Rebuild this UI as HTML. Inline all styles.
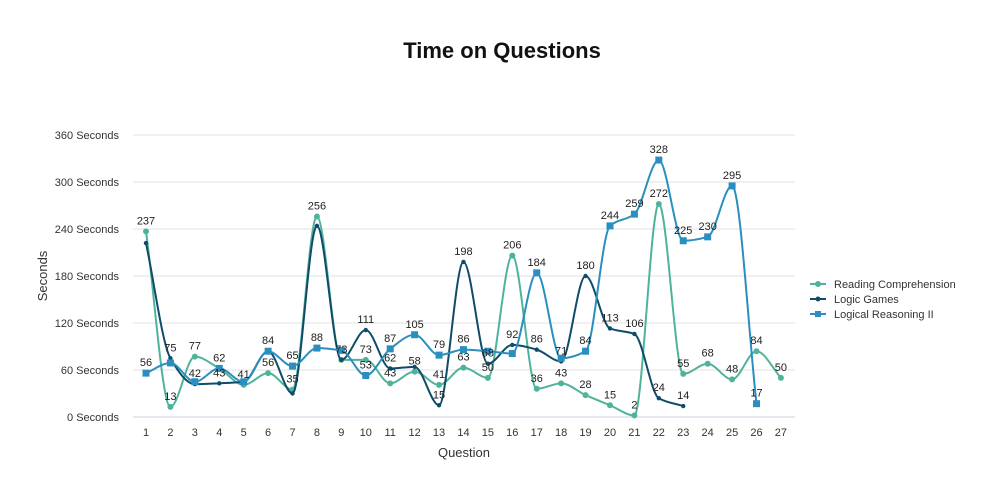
<!DOCTYPE html>
<html><head><meta charset="utf-8"><style>
body{margin:0;background:#fff;width:988px;height:487px;overflow:hidden;font-family:"Liberation Sans",sans-serif}
</style></head><body>
<svg id="s" width="988" height="487" xmlns="http://www.w3.org/2000/svg" font-family="Liberation Sans, sans-serif">
<text x="502" y="58" text-anchor="middle" font-size="22" font-weight="bold" fill="#111">Time on Questions</text>
<g id="grid"></g><g id="lines"></g><g id="labels" font-size="11" fill="#222" text-anchor="middle"></g>
<text x="464" y="457" text-anchor="middle" font-size="13" fill="#333">Question</text>
<text transform="translate(47,276) rotate(-90)" text-anchor="middle" font-size="13" fill="#333">Seconds</text>
<g font-size="11" fill="#333">
<line x1="810" y1="284" x2="826" y2="284" stroke="#4fb39c" stroke-width="2"/><circle cx="818" cy="284" r="3" fill="#4fb39c"/><text x="834" y="288">Reading Comprehension</text>
<line x1="810" y1="299" x2="826" y2="299" stroke="#0f4c6b" stroke-width="2"/><circle cx="818" cy="299" r="2.5" fill="#0f4c6b"/><text x="834" y="303">Logic Games</text>
<line x1="810" y1="314" x2="826" y2="314" stroke="#2a8fbf" stroke-width="2"/><rect x="815" y="311" width="6" height="6" fill="#2a8fbf"/><text x="834" y="318">Logical Reasoning II</text>
</g>
</svg>
<script>
const NS="http://www.w3.org/2000/svg";
const X=i=>146+(i-1)*24.42, Y=v=>417-v*0.7833;
function el(t,a,p){const e=document.createElementNS(NS,t);for(const k in a)e.setAttribute(k,a[k]);if(p)p.appendChild(e);return e;}
const g=document.getElementById('grid'),L=document.getElementById('lines'),lab=document.getElementById('labels');
for(let v=0;v<=360;v+=60){el('line',{x1:133,x2:795,y1:Y(v),y2:Y(v),stroke:v==0?'#c9d3e0':'#e2e2e2','stroke-width':1},g);
const t=el('text',{x:119,y:Y(v)+4,'text-anchor':'end','font-size':11,fill:'#333'},g);t.textContent=v+' Seconds';}
for(let i=1;i<=27;i++){const t=el('text',{x:X(i),y:436,'text-anchor':'middle','font-size':11,fill:'#333'},g);t.textContent=i;}
const RC=[237,13,77,62,41,56,35,256,73,73,43,58,41,63,50,206,36,43,28,15,2,272,55,68,48,84,50];
const LG=[222,75,42,43,45,84,30,244,73,111,62,64,15,198,68,92,86,71,180,113,106,24,14];
const LR=[56,69,45,62,45,84,65,88,85,53,87,105,79,86,84,81,184,75,84,244,259,328,225,230,295,17];
function path(d,c,m){const p=d.map((v,i)=>[X(i+1),Y(v)]);const n=p.length,h=24.42;
const s=[];for(let i=0;i<n-1;i++)s.push((p[i+1][1]-p[i][1])/h);
const t=[];for(let i=0;i<n;i++){if(i==0)t.push(s[0]);else if(i==n-1)t.push(s[n-2]);else{const a=s[i-1],b=s[i];t.push(a*b<=0?0:(3*a*b)/(a+2*b+ (b+2*a) - (a+2*b) + 0) );}}
for(let i=1;i<n-1;i++){const a=s[i-1],b=s[i];t[i]=a*b<=0?0:2/(1/a+1/b);}
let str='M'+p[0];
for(let i=0;i<n-1;i++){const k=h/3;str+=` C${p[i][0]+k},${p[i][1]+t[i]*k} ${p[i+1][0]-k},${p[i+1][1]-t[i+1]*k} ${p[i+1][0]},${p[i+1][1]}`;}
el('path',{d:str,fill:'none',stroke:c,'stroke-width':2},L);
p.forEach(q=>{if(m=='c')el('circle',{cx:q[0],cy:q[1],r:3,fill:c},L);else if(m=='d')el('circle',{cx:q[0],cy:q[1],r:2.2,fill:c},L);else el('rect',{x:q[0]-3.5,y:q[1]-3.5,width:7,height:7,fill:c},L);});}
path(RC,'#4fb39c','c');path(LG,'#0f4c6b','d');path(LR,'#2a8fbf','s');
const labs=[];
RC.forEach((v,i)=>labs.push([i+1,v]));
[[2,75],[3,42],[4,43],[10,111],[11,62],[13,15],[14,198],[15,68],[16,92],[17,86],[18,71],[19,180],[20,113],[21,106],[22,24],[23,14]].forEach(a=>labs.push(a));
[[1,56],[6,84],[7,65],[8,88],[10,53],[11,87],[12,105],[13,79],[14,86],[17,184],[19,84],[20,244],[21,259],[22,328],[23,225],[24,230],[25,295],[26,17]].forEach(a=>labs.push(a));
labs.forEach(([i,v])=>{const t=el('text',{x:X(i),y:Y(v)-7},lab);t.textContent=v;});
</script>
</body></html>
